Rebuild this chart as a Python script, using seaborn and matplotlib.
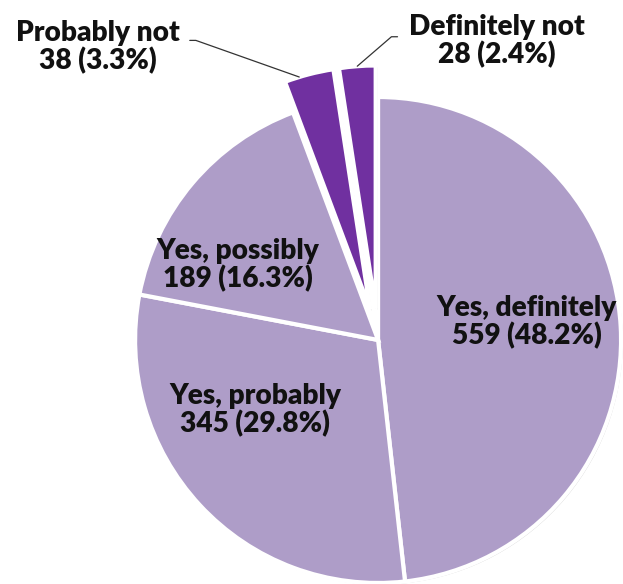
import matplotlib
matplotlib.use("Agg")
import matplotlib.pyplot as plt
import matplotlib.patheffects as pe
import numpy as np
import seaborn as sns

# Survey responses
categories = ["Yes, definitely", "Yes, probably", "Yes, possibly",
              "Probably not", "Definitely not"]
counts = [559, 345, 189, 38, 28]

sns.set_theme(style="white")
plt.rcParams["font.family"] = ["Lato", "DejaVu Sans"]

light = "#AE9DC8"
dark = "#7030A0"
colors = [light, light, light, dark, dark]
explode = [0, 0, 0, 0.13, 0.13]

total = sum(counts)
labels = [f"{c}\n{n} ({n / total * 100:.1f}%)" for c, n in zip(categories, counts)]

fig = plt.figure(figsize=(6.23, 5.84), dpi=100)
ax = fig.add_axes([0, 0, 1, 1])
wedges, _ = ax.pie(counts, colors=colors, explode=explode, startangle=90,
                   counterclock=False, radius=1.0,
                   wedgeprops=dict(edgecolor="white", linewidth=3.0))
for w in wedges:
    w.set_path_effects([pe.SimplePatchShadow(offset=(1.2, -1.2),
                                             shadow_rgbFace="#888888", alpha=0.35),
                        pe.Normal()])

ax.set_xlim(-1.556, 1.008)
ax.set_ylim(-1.004, 1.399)
ax.set_aspect("equal")
ax.axis("off")

txt = dict(fontsize=20.2, fontweight="heavy", color="#111111",
           ha="center", va="center", linespacing=1.05)
inside_pos = [(0.611, 0.074), (-0.506, -0.288), (-0.576, 0.309)]
for lab, (x, y) in zip(labels[:3], inside_pos):
    ax.text(x, y, lab, **txt)

# Outside labels with leader lines to the exploded wedges
ax.text(-1.152, 1.206, labels[3], **txt)
ax.text(0.488, 1.230, labels[4], **txt)


def rim_point(i, frac, r=1.0):
    w = wedges[i]
    t1, t2 = np.deg2rad(w.theta1), np.deg2rad(w.theta2)
    t = t1 + (t2 - t1) * frac
    cx, cy = w.center
    return cx + r * np.cos(t), cy + r * np.sin(t)


p3 = rim_point(3, 0.7)
ax.plot([-0.775, -0.75, p3[0]], [1.233, 1.233, p3[1]], color="#333333", lw=0.9)
p4 = rim_point(4, 0.5)
ax.plot([0.08, 0.055, p4[0]], [1.248, 1.248, p4[1]], color="#333333", lw=0.9)

fig.savefig("out.png", dpi=100, facecolor="white")
